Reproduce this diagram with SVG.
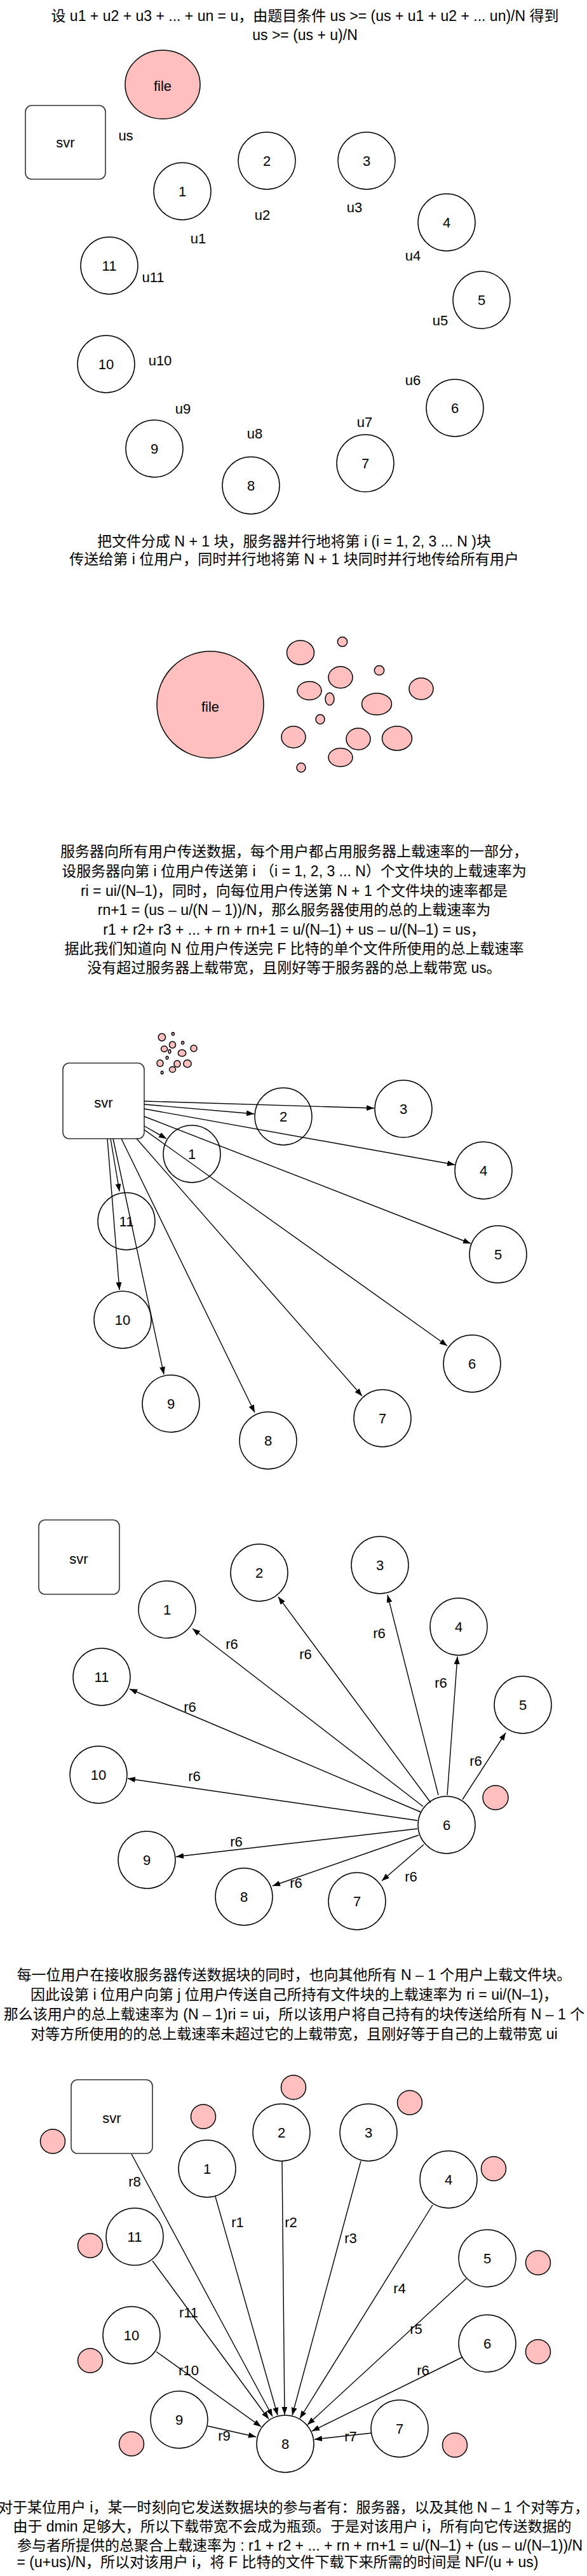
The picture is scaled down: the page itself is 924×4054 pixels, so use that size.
<svg xmlns="http://www.w3.org/2000/svg" xmlns:xlink="http://www.w3.org/1999/xlink" width="924" height="4054" viewBox="0 0 924 4054">
<style>
.bg{fill:#fff}
.n{fill:#fff;stroke:#000;stroke-width:1.5}
.bx{fill:#fff;stroke:#333;stroke-width:1.6}
.p{fill:#ffbfbf;stroke:#000;stroke-width:1.5;vector-effect:non-scaling-stroke}
.t{font-family:"Liberation Sans","Noto Sans CJK SC",sans-serif;font-size:23px;fill:#000;text-anchor:middle}
.l{font-family:"Liberation Sans","Noto Sans CJK SC",sans-serif;font-size:22px;fill:#000;text-anchor:middle}
.e{fill:none;stroke:#000;stroke-width:1.4;marker-end:url(#a)}
</style>
<defs>
<marker id="a" markerWidth="13" markerHeight="10" refX="12" refY="4.5" orient="auto" markerUnits="userSpaceOnUse"><path d="M0,0 L12,4.5 L0,9 Z" fill="#000"/></marker>
<g id="cl">
<ellipse class="p" cx="473" cy="1027" rx="21.5" ry="19"/>
<ellipse class="p" cx="539" cy="1010" rx="7.7" ry="7.5"/>
<ellipse class="p" cx="536" cy="1066" rx="19" ry="17"/>
<ellipse class="p" cx="597" cy="1055" rx="7.7" ry="7.5"/>
<ellipse class="p" cx="487" cy="1087" rx="19" ry="14.5"/>
<ellipse class="p" cx="519" cy="1100" rx="7" ry="9.7"/>
<ellipse class="p" cx="663" cy="1084" rx="19" ry="17"/>
<ellipse class="p" cx="593" cy="1108" rx="23.5" ry="17"/>
<ellipse class="p" cx="504" cy="1132" rx="7" ry="7.5"/>
<ellipse class="p" cx="462" cy="1160" rx="19" ry="17"/>
<ellipse class="p" cx="564" cy="1163" rx="19" ry="17"/>
<ellipse class="p" cx="625" cy="1162" rx="23.5" ry="19"/>
<ellipse class="p" cx="536" cy="1192" rx="19" ry="14.5"/>
<ellipse class="p" cx="474" cy="1208" rx="7" ry="7.2"/>
</g>
</defs>
<rect class="bg" x="0" y="0" width="924" height="4054"/>

<!-- Section 1 -->
<g id="text-1">
<text class="t" x="480" y="33">设 u1 + u2 + u3 + ... + un = u，由题目条件 us &gt;= (us + u1 + u2 + ... un)/N 得到</text>
<text class="t" x="480" y="63">us &gt;= (us + u)/N</text>
</g>
<g id="s1-svr"><rect class="bx" x="40" y="166" width="126" height="116" rx="10"/><text class="l" x="103" y="232">svr</text></g>
<g id="s1-file"><ellipse class="p" cx="256" cy="133" rx="59" ry="54"/><text class="l" x="256" y="143">file</text></g>
<g id="s1-us"><text class="l" x="198" y="221">us</text></g>
<g id="s1-n1"><circle class="n" cx="287" cy="301" r="45"/><text class="l" x="287" y="309">1</text><text class="l" x="312" y="383">u1</text></g>
<g id="s1-n2"><circle class="n" cx="420" cy="253" r="45"/><text class="l" x="420" y="261">2</text><text class="l" x="413" y="346">u2</text></g>
<g id="s1-n3"><circle class="n" cx="577" cy="253" r="45"/><text class="l" x="577" y="261">3</text><text class="l" x="558" y="334">u3</text></g>
<g id="s1-n4"><circle class="n" cx="703" cy="350" r="45"/><text class="l" x="703" y="358">4</text><text class="l" x="650" y="410">u4</text></g>
<g id="s1-n5"><circle class="n" cx="758" cy="472" r="45"/><text class="l" x="758" y="480">5</text><text class="l" x="693" y="512">u5</text></g>
<g id="s1-n6"><circle class="n" cx="716" cy="642" r="45"/><text class="l" x="716" y="650">6</text><text class="l" x="650" y="606">u6</text></g>
<g id="s1-n7"><circle class="n" cx="575" cy="729" r="45"/><text class="l" x="575" y="737">7</text><text class="l" x="574" y="672">u7</text></g>
<g id="s1-n8"><circle class="n" cx="395" cy="764" r="45"/><text class="l" x="395" y="772">8</text><text class="l" x="401" y="690">u8</text></g>
<g id="s1-n9"><circle class="n" cx="243" cy="706" r="45"/><text class="l" x="243" y="714">9</text><text class="l" x="288" y="651">u9</text></g>
<g id="s1-n10"><circle class="n" cx="167" cy="573" r="45"/><text class="l" x="167" y="581">10</text><text class="l" x="252" y="575">u10</text></g>
<g id="s1-n11"><circle class="n" cx="172" cy="418" r="45"/><text class="l" x="172" y="426">11</text><text class="l" x="241" y="444">u11</text></g>
<g id="text-2">
<text class="t" x="463" y="860">把文件分成 N + 1 块，服务器并行地将第 i (i = 1, 2, 3 ... N )块</text>
<text class="t" x="463" y="888">传送给第 i 位用户，同时并行地将第 N + 1 块同时并行地传给所有用户</text>
</g>

<!-- Section 2 -->
<g id="s2-file"><circle class="p" cx="331" cy="1109" r="84"/><text class="l" x="331" y="1120">file</text></g>
<g id="s2-pieces"><use xlink:href="#cl" href="#cl"/></g>
<g id="text-3">
<text class="t" x="463" y="1348">服务器向所有用户传送数据，每个用户都占用服务器上载速率的一部分，</text>
<text class="t" x="463" y="1379">设服务器向第 i 位用户传送第 i （i = 1, 2, 3 ... N）个文件块的上载速率为</text>
<text class="t" x="463" y="1410">ri = ui/(N–1)，同时，向每位用户传送第 N + 1 个文件块的速率都是</text>
<text class="t" x="463" y="1440">rn+1 = (us – u/(N – 1))/N，那么服务器使用的总的上载速率为</text>
<text class="t" x="463" y="1471">r1 + r2+ r3 + ... + rn + rn+1 = u/(N–1) + us – u/(N–1) = us，</text>
<text class="t" x="463" y="1501">据此我们知道向 N 位用户传送完 F 比特的单个文件所使用的总上载速率</text>
<text class="t" x="463" y="1531">没有超过服务器上载带宽，且刚好等于服务器的总上载带宽 us。</text>
</g>

<!-- Section 3 -->
<g id="s3-pieces"><use xlink:href="#cl" href="#cl" transform="matrix(0.264 0 0 0.308 130 1316)"/></g>
<g id="s3-svr"><rect class="bx" x="99" y="1673" width="128" height="119" rx="10"/><text class="l" x="163" y="1743">svr</text></g>
<g id="s3-n1"><circle class="n" cx="302" cy="1816" r="45"/><text class="l" x="302" y="1824">1</text></g>
<g id="s3-n2"><circle class="n" cx="446" cy="1757" r="45"/><text class="l" x="446" y="1765">2</text></g>
<g id="s3-n3"><circle class="n" cx="635" cy="1745" r="45"/><text class="l" x="635" y="1753">3</text></g>
<g id="s3-n4"><circle class="n" cx="761" cy="1842" r="45"/><text class="l" x="761" y="1850">4</text></g>
<g id="s3-n5"><circle class="n" cx="784" cy="1974" r="45"/><text class="l" x="784" y="1982">5</text></g>
<g id="s3-n6"><circle class="n" cx="743" cy="2146" r="45"/><text class="l" x="743" y="2154">6</text></g>
<g id="s3-n7"><circle class="n" cx="602" cy="2232" r="45"/><text class="l" x="602" y="2240">7</text></g>
<g id="s3-n8"><circle class="n" cx="422" cy="2267" r="45"/><text class="l" x="422" y="2275">8</text></g>
<g id="s3-n9"><circle class="n" cx="269" cy="2209" r="45"/><text class="l" x="269" y="2217">9</text></g>
<g id="s3-n10"><circle class="n" cx="193" cy="2077" r="45"/><text class="l" x="193" y="2085">10</text></g>
<g id="s3-n11"><circle class="n" cx="199" cy="1922" r="45"/><text class="l" x="199" y="1930">11</text></g>
<g id="s3-connectors">
<path class="e" d="M227,1733 L589,1744"/>
<path class="e" d="M227,1738 L400,1753"/>
<path class="e" d="M227,1745 L716,1833"/>
<path class="e" d="M227,1757 L741,1957"/>
<path class="e" d="M227,1772 L262,1792"/>
<path class="e" d="M227,1778 L704,2118"/>
<path class="e" d="M215,1792 L570,2197"/>
<path class="e" d="M191,1792 L401,2223"/>
<path class="e" d="M178,1792 L258,2163"/>
<path class="e" d="M174,1792 L188,1875"/>
<path class="e" d="M169,1792 L188,2030"/>
</g>

<!-- Section 4 -->
<g id="s4-svr"><rect class="bx" x="61" y="2392" width="127" height="117" rx="10"/><text class="l" x="124" y="2461">svr</text></g>
<g id="s4-n1"><circle class="n" cx="263" cy="2533" r="45"/><text class="l" x="263" y="2541">1</text></g>
<g id="s4-n2"><circle class="n" cx="408" cy="2475" r="45"/><text class="l" x="408" y="2483">2</text></g>
<g id="s4-n3"><circle class="n" cx="598" cy="2463" r="45"/><text class="l" x="598" y="2471">3</text></g>
<g id="s4-n4"><circle class="n" cx="722" cy="2560" r="45"/><text class="l" x="722" y="2568">4</text></g>
<g id="s4-n5"><circle class="n" cx="823" cy="2683" r="45"/><text class="l" x="823" y="2691">5</text></g>
<g id="s4-n6"><circle class="n" cx="703" cy="2872" r="45"/><text class="l" x="703" y="2880">6</text></g>
<g id="s4-n7"><circle class="n" cx="562" cy="2992" r="45"/><text class="l" x="562" y="3000">7</text></g>
<g id="s4-n8"><circle class="n" cx="384" cy="2985" r="45"/><text class="l" x="384" y="2993">8</text></g>
<g id="s4-n9"><circle class="n" cx="231" cy="2927" r="45"/><text class="l" x="231" y="2935">9</text></g>
<g id="s4-n10"><circle class="n" cx="155" cy="2793" r="45"/><text class="l" x="155" y="2801">10</text></g>
<g id="s4-n11"><circle class="n" cx="160" cy="2639" r="45"/><text class="l" x="160" y="2647">11</text></g>
<g id="s4-piece"><ellipse class="p" cx="780" cy="2829" rx="20" ry="19"/></g>
<g id="s4-connectors">
<path class="e" d="M666,2843 L303,2563"/>
<path class="e" d="M678,2837 L438,2513"/>
<path class="e" d="M690,2825 L610,2510"/>
<path class="e" d="M704,2825 L720,2607"/>
<path class="e" d="M728,2832 L796,2727"/>
<path class="e" d="M663,2852 L204,2658"/>
<path class="e" d="M657,2865 L201,2799"/>
<path class="e" d="M657,2878 L277,2922"/>
<path class="e" d="M659,2888 L429,2968"/>
<path class="e" d="M667,2903 L601,2960"/>
<text class="l" x="365" y="2595">r6</text>
<text class="l" x="481" y="2611">r6</text>
<text class="l" x="597" y="2578">r6</text>
<text class="l" x="694" y="2656">r6</text>
<text class="l" x="749" y="2779">r6</text>
<text class="l" x="299" y="2694">r6</text>
<text class="l" x="306" y="2803">r6</text>
<text class="l" x="372" y="2906">r6</text>
<text class="l" x="466" y="2971">r6</text>
<text class="l" x="647" y="2961">r6</text>
</g>
<g id="text-4">
<text class="t" x="463" y="3116">每一位用户在接收服务器传送数据块的同时，也向其他所有 N – 1 个用户上载文件块。</text>
<text class="t" x="463" y="3147">因此设第 i 位用户向第 j 位用户传送自己所持有文件块的上载速率为 ri = ui/(N–1)，</text>
<text class="t" x="463" y="3178">那么该用户的总上载速率为 (N – 1)ri = ui，所以该用户将自己持有的块传送给所有 N – 1 个</text>
<text class="t" x="463" y="3209">对等方所使用的的总上载速率未超过它的上载带宽，且刚好等于自己的上载带宽 ui</text>
</g>

<!-- Section 5 -->
<g id="s5-pieces">
<ellipse class="p" cx="462" cy="3285" rx="19.5" ry="19"/>
<ellipse class="p" cx="645" cy="3309" rx="19.5" ry="19"/>
<ellipse class="p" cx="320" cy="3331" rx="19.5" ry="19"/>
<ellipse class="p" cx="83" cy="3370" rx="19.5" ry="19"/>
<ellipse class="p" cx="777" cy="3413" rx="19.5" ry="19"/>
<ellipse class="p" cx="142" cy="3534" rx="19.5" ry="19"/>
<ellipse class="p" cx="847" cy="3561" rx="19.5" ry="19"/>
<ellipse class="p" cx="847" cy="3701" rx="19.5" ry="19"/>
<ellipse class="p" cx="142" cy="3715" rx="19.5" ry="19"/>
<ellipse class="p" cx="207" cy="3846" rx="19.5" ry="19"/>
<ellipse class="p" cx="716" cy="3848" rx="19.5" ry="19"/>
</g>
<g id="s5-svr"><rect class="bx" x="112" y="3273" width="128" height="116" rx="10"/><text class="l" x="176" y="3341">svr</text></g>
<g id="s5-n1"><circle class="n" cx="326" cy="3413" r="45"/><text class="l" x="326" y="3421">1</text></g>
<g id="s5-n2"><circle class="n" cx="443" cy="3356" r="45"/><text class="l" x="443" y="3364">2</text></g>
<g id="s5-n3"><circle class="n" cx="580" cy="3356" r="45"/><text class="l" x="580" y="3364">3</text></g>
<g id="s5-n4"><circle class="n" cx="706" cy="3430" r="45"/><text class="l" x="706" y="3438">4</text></g>
<g id="s5-n5"><circle class="n" cx="767" cy="3554" r="45"/><text class="l" x="767" y="3562">5</text></g>
<g id="s5-n6"><circle class="n" cx="767" cy="3688" r="45"/><text class="l" x="767" y="3696">6</text></g>
<g id="s5-n7"><circle class="n" cx="629" cy="3822" r="45"/><text class="l" x="629" y="3830">7</text></g>
<g id="s5-n8"><circle class="n" cx="449" cy="3846" r="45"/><text class="l" x="449" y="3854">8</text></g>
<g id="s5-n9"><circle class="n" cx="282" cy="3808" r="45"/><text class="l" x="282" y="3816">9</text></g>
<g id="s5-n10"><circle class="n" cx="207" cy="3675" r="45"/><text class="l" x="207" y="3683">10</text></g>
<g id="s5-n11"><circle class="n" cx="212" cy="3520" r="45"/><text class="l" x="212" y="3528">11</text></g>
<g id="s5-connectors">
<path class="e" d="M207,3390 L429,3803"/>
<path class="e" d="M339,3457 L437,3801"/>
<path class="e" d="M444,3401 L448,3800"/>
<path class="e" d="M568,3401 L460,3801"/>
<path class="e" d="M681,3470 L472,3806"/>
<path class="e" d="M734,3586 L484,3816"/>
<path class="e" d="M727,3710 L491,3826"/>
<path class="e" d="M585,3829 L495,3839"/>
<path class="e" d="M327,3818 L403,3835"/>
<path class="e" d="M246,3701 L411,3819"/>
<path class="e" d="M240,3558 L423,3807"/>
<text class="l" x="212" y="3441">r8</text>
<text class="l" x="374" y="3505">r1</text>
<text class="l" x="458" y="3505">r2</text>
<text class="l" x="552" y="3530">r3</text>
<text class="l" x="629" y="3609">r4</text>
<text class="l" x="297" y="3647">r11</text>
<text class="l" x="655" y="3673">r5</text>
<text class="l" x="297" y="3738">r10</text>
<text class="l" x="666" y="3738">r6</text>
<text class="l" x="353" y="3841">r9</text>
<text class="l" x="552" y="3842">r7</text>
</g>
<g id="text-5">
<text class="t" x="462" y="3954">对于某位用户 i，某一时刻向它发送数据块的参与者有：服务器，以及其他 N – 1 个对等方，</text>
<text class="t" x="460" y="3984">由于 dmin 足够大，所以下载带宽不会成为瓶颈。于是对该用户 i，所有向它传送数据的</text>
<text class="t" x="472" y="4014">参与者所提供的总聚合上载速率为 : r1 + r2 + ... + rn + rn+1 = u/(N–1) + (us – u/(N–1))/N</text>
<text class="t" x="437" y="4040">= (u+us)/N，所以对该用户 i，将 F 比特的文件下载下来所需的时间是 NF/(u + us)</text>
</g>
</svg>
